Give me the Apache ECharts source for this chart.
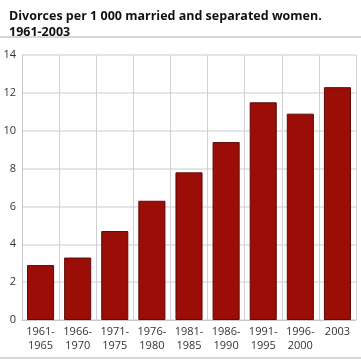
<!DOCTYPE html>
<html><head><meta charset="utf-8">
<script src="https://cdn.jsdelivr.net/npm/echarts@6/dist/echarts.min.js"></script>
<style>html,body{margin:0;padding:0;background:#fff}#c{width:361px;height:361px}</style>
</head><body><div id="c"></div>
<script>
var categories = ['1961-\n1965','1966-\n1970','1971-\n1975','1976-\n1980','1981-\n1985','1986-\n1990','1991-\n1995','1996-\n2000','2003'];
var values = [2.9, 3.3, 4.7, 6.3, 7.8, 9.4, 11.5, 10.9, 12.3];
var titleText = 'Divorces per 1 000 married and separated women.\n1961-2003';
var chart = echarts.init(document.getElementById('c'), null, {renderer:'canvas'});
chart.setOption({
  animation:false,
  title:{text:titleText,left:4,top:3,textStyle:{fontFamily:'Open Sans',fontWeight:'bold',fontSize:12.5,lineHeight:16,color:'#111'}},
  graphic:[
    {type:'line',shape:{x1:0,y1:37,x2:361,y2:37},style:{stroke:'#c8c8c8',lineWidth:1.5}},
    {type:'line',shape:{x1:0,y1:358,x2:361,y2:358},style:{stroke:'#c8c8c8',lineWidth:1.5}}
  ],
  grid:{left:22,right:5,top:55,bottom:41,containLabel:false},
  xAxis:{type:'category',data:categories,
    axisLine:{show:true,lineStyle:{color:'#c8c8c8'}},axisTick:{show:false},
    splitLine:{show:true,lineStyle:{color:'#d0d0d0'}},
    axisLabel:{color:'#333',fontFamily:'Open Sans',fontSize:11,lineHeight:14,margin:5,interval:0}},
  yAxis:{type:'value',min:0,max:14,interval:2,
    axisLine:{show:true,lineStyle:{color:'#c8c8c8'}},axisTick:{show:false},
    splitLine:{show:true,lineStyle:{color:'#dcdcdc',width:1.5}},
    axisLabel:{color:'#333',fontFamily:'Open Sans',fontSize:11,margin:6}},
  series:[{type:'bar',data:values,barWidth:'73%',
    itemStyle:{color:'#9b0e08',borderColor:'#5e0a06',borderWidth:1}}]
});
</script></body></html>
